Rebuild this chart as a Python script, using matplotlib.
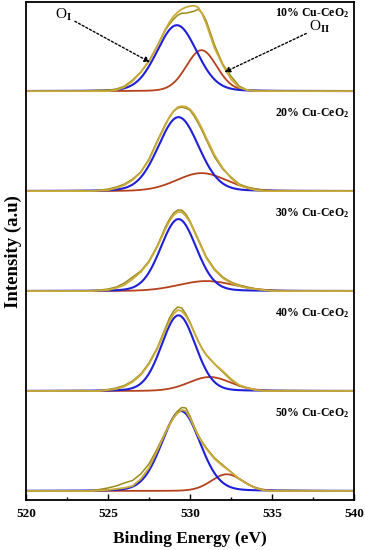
import numpy as np
import matplotlib
matplotlib.use("Agg")
import matplotlib.pyplot as plt

# sample labels, bottom panel first
samples = ["50%", "40%", "30%", "20%", "10%"]

# fitted components (O_I lattice oxygen, O_II surface oxygen): centre, height, FWHM
oi_center = [529.45, 529.3, 529.3, 529.3, 529.2]
oi_height = [0.80, 0.757, 0.72, 0.74, 0.66]
oi_fwhm = [2.74, 2.44, 2.55, 2.9, 2.85]

oii_center = [532.25, 531.2, 531.0, 530.7, 530.7]
oii_height = [0.167, 0.14, 0.10, 0.18, 0.41]
oii_fwhm = [2.25, 3.0, 4.0, 3.6, 2.2]
lorentz_frac = 0.1  # GL mix used by the peak fit

energy = [520, 523.5, 524, 524.5, 525, 525.5, 526, 526.5, 527, 527.5, 528, 528.5,
          528.75, 529, 529.25, 529.5, 529.75, 530, 530.25, 530.5, 530.75, 531,
          531.5, 532, 532.5, 533, 533.5, 534, 534.5, 535, 535.5, 540]

measured = [
    [0, 0, .005, .015, .03, .05, .08, .105, .17, .27, .42, .59,
     .67, .74, .80, .835, .83, .75, .65, .56, .49, .43,
     .33, .26, .19, .12, .07, .03, .007, 0, .005, 0],
    [0, .005, 0, .005, .015, .03, .055, .10, .17, .28, .43, .63,
     .73, .80, .84, .83, .77, .69, .59, .50, .42, .36,
     .27, .19, .11, .055, .03, .01, .005, 0, .005, 0],
    [0, 0, .005, .01, .02, .04, .08, .14, .20, .30, .45, .64,
     .72, .78, .81, .81, .77, .70, .61, .52, .43, .34,
     .22, .14, .09, .06, .04, .02, .01, .005, 0, 0],
    [0, .005, 0, .01, .02, .04, .07, .12, .19, .32, .50, .67,
     .74, .80, .83, .84, .83, .81, .75, .68, .60, .51,
     .34, .22, .14, .07, .04, .02, .01, 0, .005, 0],
    [0, 0, .005, .01, .01, .02, .05, .11, .19, .30, .45, .61,
     .67, .72, .76, .78, .78, .79, .80, .82, .78, .70,
     .46, .27, .15, .05, .01, .005, 0, .005, 0, 0],
]

envelope = [
    [0, 0, 0, .005, .01, .02, .03, .05, .12, .23, .40, .58,
     .66, .73, .78, .81, .80, .73, .64, .55, .48, .42,
     .32, .25, .19, .12, .07, .03, .007, 0, 0, 0],
    [0, 0, 0, 0, .01, .02, .045, .09, .16, .27, .42, .61,
     .70, .77, .81, .80, .75, .68, .59, .50, .42, .36,
     .27, .20, .12, .06, .03, .01, 0, 0, 0, 0],
    [0, 0, 0, .005, .01, .03, .06, .12, .19, .29, .44, .62,
     .70, .76, .79, .79, .75, .69, .60, .51, .42, .33,
     .21, .13, .08, .05, .03, .02, .01, 0, 0, 0],
    [0, 0, 0, .005, .01, .03, .06, .11, .19, .31, .49, .66,
     .74, .80, .84, .85, .845, .82, .77, .70, .62, .53,
     .36, .23, .13, .06, .03, .01, 0, 0, 0, 0],
    [0, 0, 0, 0, 0, .01, .04, .10, .19, .30, .45, .62,
     .69, .75, .79, .82, .84, .85, .855, .84, .77, .67,
     .43, .26, .12, .035, .01, 0, 0, 0, 0, 0],
]

BLUE = "#1f1fd8"
RED = "#b5421c"
GOLD = "#c9aa3a"
OLIVE = "#9a8c1c"

plt.rcParams["font.family"] = ["Liberation Serif", "DejaVu Serif"]
plt.rcParams["mathtext.fontset"] = "custom"
plt.rcParams["mathtext.rm"] = "Liberation Serif:bold"
plt.rcParams["mathtext.it"] = "Liberation Serif:bold"
plt.rcParams["mathtext.bf"] = "Liberation Serif:bold"


def gl_peak(x, c, h, w):
    g = np.exp(-4 * np.log(2) * (x - c) ** 2 / w ** 2)
    lor = 1 / (1 + 4 * (x - c) ** 2 / w ** 2)
    return h * ((1 - lorentz_frac) * g + lorentz_frac * lor)


fig = plt.figure(figsize=(3.65, 5.5), dpi=100)
ax = fig.add_axes([0.071, 0.091, 0.899, 0.905])

x = np.linspace(520, 540, 801)
for i, name in enumerate(samples):
    off = float(i)
    oi = gl_peak(x, oi_center[i], oi_height[i], oi_fwhm[i])
    oii = gl_peak(x, oii_center[i], oii_height[i], oii_fwhm[i])
    ax.plot(x, oii + off, color=RED, lw=1.3)
    ax.plot(x, oi + off, color=BLUE, lw=1.5)
    ax.plot(energy, np.array(measured[i]) + off, color=OLIVE, lw=1.1)
    ax.plot(energy, np.array(envelope[i]) + off, color=GOLD, lw=1.3)
    ax.text(539.7, off + 0.78, name + r" Cu-CeO$_2$", ha="right", va="center",
            fontsize=8.5, fontweight="bold")

arrow = dict(arrowstyle="-|>", linestyle=(0, (1.5, 1.5)), color="black",
             lw=1.0, mutation_scale=8, shrinkA=0, shrinkB=0)
ax.annotate(r"O$_\mathrm{I}$", xy=(527.56, 4.29), xytext=(522.3, 4.76),
            ha="center", va="center", fontsize=11, arrowprops=arrow)
ax.annotate(r"O$_\mathrm{II}$", xy=(532.1, 4.19), xytext=(537.9, 4.64),
            ha="center", va="center", fontsize=11, arrowprops=arrow)

ax.set_xlim(520, 540)
ax.set_ylim(-0.09, 4.89)
ax.set_xticks([520, 525, 530, 535, 540])
ax.set_xticks([522.5, 527.5, 532.5, 537.5], minor=True)
ax.set_yticks([])
ax.tick_params(axis="x", direction="in", length=4, width=1, labelsize=9.5, pad=6)
ax.tick_params(axis="x", which="minor", direction="in", length=2.5, width=1)
for lab in ax.get_xticklabels():
    lab.set_fontweight("bold")
for sp in ax.spines.values():
    sp.set_linewidth(1.3)

ax.set_xlabel("Binding Energy (eV)", fontsize=12.5, fontweight="bold", labelpad=8)
ax.set_ylabel("Intensity (a.u)", fontsize=13.5, fontweight="bold", labelpad=3)

fig.savefig("out.png", dpi=100)
